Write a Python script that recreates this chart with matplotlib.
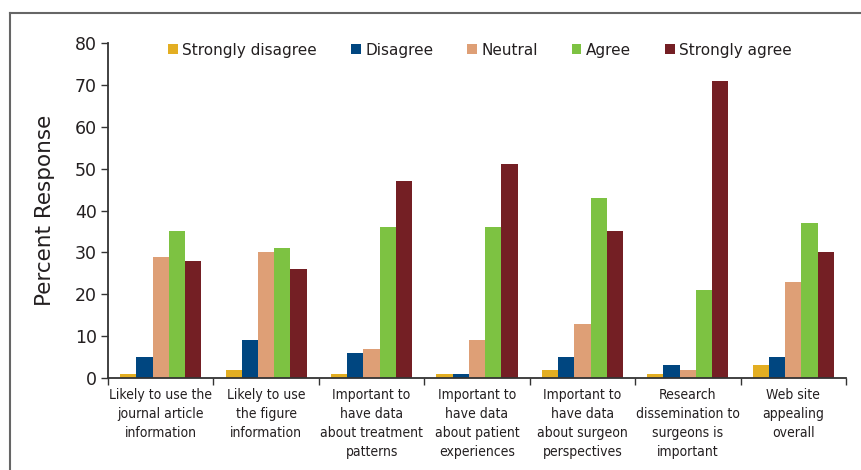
import numpy as np
import matplotlib.pyplot as plt
from matplotlib.lines import Line2D

categories = [
    "Likely to use the\njournal article\ninformation",
    "Likely to use\nthe figure\ninformation",
    "Important to\nhave data\nabout treatment\npatterns",
    "Important to\nhave data\nabout patient\nexperiences",
    "Important to\nhave data\nabout surgeon\nperspectives",
    "Research\ndissemination to\nsurgeons is\nimportant",
    "Web site\nappealing\noverall",
]
series_names = ["Strongly disagree", "Disagree", "Neutral", "Agree", "Strongly agree"]
strongly_disagree = [1, 2, 1, 1, 2, 1, 3]
disagree = [5, 9, 6, 1, 5, 3, 5]
neutral = [29, 30, 7, 9, 13, 2, 23]
agree = [35, 31, 36, 36, 43, 21, 37]
strongly_agree = [28, 26, 47, 51, 35, 71, 30]
colors = ["#E3AE22", "#004680", "#DE9F76", "#7DC242", "#741F24"]

if __name__ == "__main__":
    fig = plt.figure(figsize=(8.62, 4.70), dpi=100)
    ax = fig.add_axes([0.1253, 0.1957, 0.8561, 0.7128])

    x = np.arange(len(categories))
    width = 0.154
    for i, (vals, name, color) in enumerate(zip(
            [strongly_disagree, disagree, neutral, agree, strongly_agree], series_names, colors)):
        ax.bar(x + (i - 2) * width, vals, width, color=color, label=name, linewidth=0)

    ax.set_xlim(-0.5, len(categories) - 0.5)
    ax.set_ylim(0, 80)
    ax.set_yticks(range(0, 81, 10))
    ax.tick_params(axis="y", labelsize=12.5, length=5, width=1, color="#333333",
                   labelcolor="#231F20", pad=3)

    ax.set_xticks(x)
    ax.set_xticklabels(categories, fontstretch="condensed",
                       fontsize=10, color="#231F20", linespacing=1.45)
    ax.tick_params(axis="x", which="major", length=0, pad=7)
    ax.set_xticks(np.arange(-0.5, len(categories)), minor=True)
    ax.tick_params(axis="x", which="minor", length=5, width=1, color="#333333")

    for side in ("top", "right"):
        ax.spines[side].set_visible(False)
    for side in ("left", "bottom"):
        ax.spines[side].set_color("#333333")
        ax.spines[side].set_linewidth(1.3)

    ax.set_ylabel("Percent Response", fontsize=15.5, color="#231F20", labelpad=14)

    ax.legend(loc="center", bbox_to_anchor=(0.504, 0.979), ncol=5, frameon=False,
              fontsize=11, handlelength=0.65, handleheight=0.65, handletextpad=0.3,
              columnspacing=2.2, labelcolor="#231F20")

    # figure border (top and left)
    fig.add_artist(Line2D([0.0116, 1.0], [0.9723, 0.9723], color="#666666", linewidth=1.5))
    fig.add_artist(Line2D([0.0116, 0.0116], [0.0, 0.9723], color="#666666", linewidth=1.5))

    fig.savefig("out.png", dpi=100)
